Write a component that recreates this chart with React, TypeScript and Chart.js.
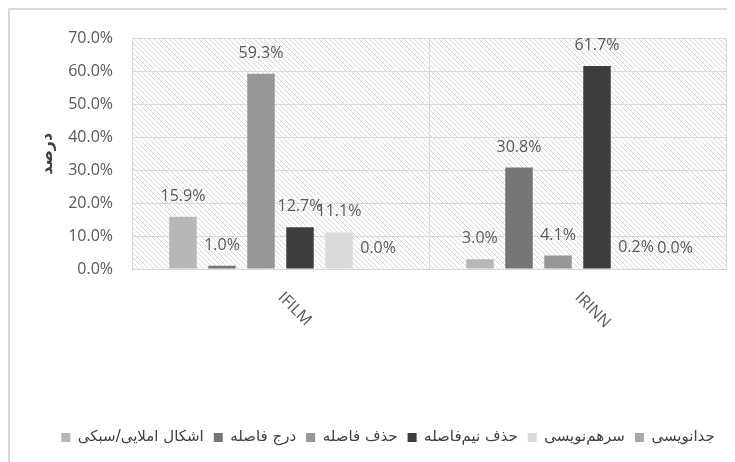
import React, { useEffect, useRef } from 'react';
import { Chart, registerables } from 'chart.js';

Chart.register(...registerables);

const categories = ['IFILM', 'IRINN'];
const seriesNames = [
  'اشکال املایی/سبکی',
  'درج فاصله',
  'حذف فاصله',
  'حذف نیم‌فاصله',
  'سرهم‌نویسی',
  'جدانویسی',
];
const spellingStyle = [15.9, 3.0];
const insertSpace = [1.0, 30.8];
const removeSpace = [59.3, 4.1];
const removeHalfSpace = [12.7, 61.7];
const joinedWriting = [11.1, 0.2];
const separateWriting = [0.0, 0.0];
const yMin = 0;
const yMax = 70;
const yStep = 10;
const yTitle = 'درصد';

const seriesValues = [spellingStyle, insertSpace, removeSpace, removeHalfSpace, joinedWriting, separateWriting];
const seriesColors = ['#b7b7b7', '#757575', '#979797', '#3d3d3d', '#dadada', '#a9a9a9'];

const NUM_FONT = '"Open Sans", "Liberation Sans", sans-serif';
const FA_FONT = '"DejaVu Sans", sans-serif';

function makeHatch(): CanvasPattern | string {
  const c = document.createElement('canvas');
  c.width = 5;
  c.height = 5;
  const g = c.getContext('2d');
  if (!g) return '#ffffff';
  g.fillStyle = '#ffffff';
  g.fillRect(0, 0, 5, 5);
  g.fillStyle = '#d8d8d8';
  for (let i = 0; i < 5; i++) g.fillRect(i, i, 1, 1);
  const p = g.createPattern(c, 'repeat');
  return p || '#ffffff';
}

const hatchPlugin = {
  id: 'hatchBg',
  beforeDraw(chart: any) {
    const { ctx, chartArea } = chart;
    if (!chartArea) return;
    ctx.save();
    ctx.fillStyle = makeHatch();
    ctx.fillRect(chartArea.left, chartArea.top, chartArea.right - chartArea.left, chartArea.bottom - chartArea.top);
    ctx.restore();
  },
};

const valueLabelPlugin = {
  id: 'valueLabels',
  afterDatasetsDraw(chart: any) {
    const ctx = chart.ctx;
    ctx.save();
    ctx.font = '16px ' + NUM_FONT;
    ctx.fillStyle = '#595959';
    ctx.textAlign = 'center';
    ctx.textBaseline = 'alphabetic';
    chart.data.datasets.forEach((ds: any, di: number) => {
      const meta = chart.getDatasetMeta(di);
      meta.data.forEach((el: any, i: number) => {
        const v = ds.data[i] as number;
        ctx.fillText(v.toFixed(1) + '%', el.x, el.y - 16);
      });
    });
    ctx.restore();
  },
};

const xLabelPlugin = {
  id: 'rotatedXLabels',
  afterDraw(chart: any) {
    const ctx = chart.ctx;
    const xs = chart.scales.x;
    const area = chart.chartArea;
    ctx.save();
    ctx.font = '16px ' + NUM_FONT;
    ctx.fillStyle = '#595959';
    ctx.textAlign = 'left';
    ctx.textBaseline = 'middle';
    categories.forEach((label, i) => {
      const x = xs.getPixelForValue(i);
      const y = area.bottom + 26;
      ctx.save();
      ctx.translate(x, y);
      ctx.rotate(Math.PI / 4);
      ctx.fillText(label, 0, 0);
      ctx.restore();
    });
    ctx.restore();
  },
};

export default function App() {
  const ref = useRef<HTMLCanvasElement | null>(null);

  useEffect(() => {
    if (!ref.current) return;
    const chart = new Chart(ref.current, {
      type: 'bar',
      data: {
        labels: categories,
        datasets: seriesNames.map((name, i) => ({
          label: name,
          data: seriesValues[i],
          backgroundColor: seriesColors[i],
          borderWidth: 0,
          categoryPercentage: 0.788,
          barPercentage: 0.705,
        })),
      },
      options: {
        animation: false,
        responsive: true,
        maintainAspectRatio: false,
        layout: { padding: { left: 40, right: 40, top: 23, bottom: 7 } },
        plugins: {
          tooltip: { enabled: false },
          legend: {
            position: 'bottom',
            labels: {
              boxWidth: 9,
              boxHeight: 9,
              padding: 10,
              color: '#404040',
              font: { family: FA_FONT, size: 15 },
            },
          },
        },
        scales: {
          x: {
            offset: true,
            grid: { display: true, color: '#d9d9d9', lineWidth: 1, drawTicks: false },
            border: { display: true, color: '#d9d9d9' },
            ticks: { display: false },
            afterFit(scale: any) {
              scale.height = 151;
            },
          },
          y: {
            min: yMin,
            max: yMax,
            ticks: {
              stepSize: yStep,
              padding: 19,
              color: '#595959',
              font: { family: NUM_FONT, size: 16 },
              callback: (v: any) => Number(v).toFixed(1) + '%',
            },
            grid: { color: '#d9d9d9', lineWidth: 1, drawTicks: false },
            border: { display: true, color: '#d9d9d9' },
            title: {
              display: true,
              text: yTitle,
              color: '#404040',
              font: { family: FA_FONT, size: 16, weight: 'bold' },
              padding: { top: -12, bottom: 0 },
            },
            afterFit(scale: any) {
              scale.width = 82;
            },
          },
        },
      },
      plugins: [hatchPlugin, valueLabelPlugin, xLabelPlugin],
    } as any);
    return () => chart.destroy();
  }, []);

  return (
    <div
      style={{
        position: 'relative',
        width: 727,
        height: 454,
        overflow: 'hidden',
        borderLeft: '2px solid #d9d9d9',
        borderTop: '2px solid #d9d9d9',
        boxSizing: 'border-box',
        background: '#ffffff',
      }}
    >
      <div style={{ position: 'relative', width: 756, height: 452 }}>
        <canvas ref={ref} />
      </div>
    </div>
  );
}
